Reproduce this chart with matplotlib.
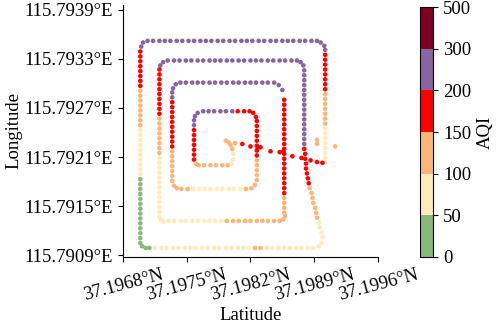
import matplotlib
matplotlib.use('Agg')
import matplotlib.pyplot as plt
from matplotlib.colors import ListedColormap, BoundaryNorm
import numpy as np

plt.rcParams['font.family'] = 'Liberation Serif'
plt.rcParams['font.size'] = 13.5

# track points as offsets from 37.1968N / 115.7909E, in units of 1e-5 degree
lat0 = 37.1968
lon0 = 115.7909

# outer ring, east side going north
r1_lat = [222]*24 + [221, 217]
r1_lon = [113, 119, 125, 131, 137, 143, 149, 155, 161, 167, 173, 179, 185, 191, 197,
          203, 209, 215, 221, 227, 233, 239, 245, 251, 256, 260]
r1_aqi = [80]*8 + [125]*7 + [175]*8 + [250]*3

t1_lat = [213, 207, 200, 194, 187, 181, 175, 168, 162, 155, 149, 142, 136, 130, 123,
          117, 110, 104, 97, 91, 85, 78, 72, 65, 59, 52, 46, 40, 33, 27, 22, 20]
t1_lon = [262]*30 + [260, 255]
t1_aqi = [250]*32

l1_lat = [19]*40 + [21, 25]
l1_lon = [249, 243, 237, 231, 225, 219, 213, 207, 201, 195, 189, 183, 177, 171, 165,
          159, 153, 147, 141, 135, 129, 123, 117, 111, 105, 99, 93, 87, 81, 75, 69,
          63, 57, 51, 45, 39, 33, 27, 21, 15, 11, 9]
l1_aqi = [175]*8 + [125]*8 + [80]*10 + [40]*14 + [40, 40]

b1_lat = [29, 35, 42, 48, 55, 61, 68, 74, 80, 87, 93, 100, 106, 113, 119, 126, 132,
          138, 145, 151, 158, 164, 171, 177, 183, 190, 196, 203, 209, 215, 218]
b1_lon = [9]*29 + [11, 15]
b1_aqi = [40] + [80]*17 + [125]*2 + [80]*9 + [80, 80]

# slanted leg back up to the second ring
s_lat = [219, 218, 216, 215, 213, 212, 211, 209, 208, 207, 205, 204, 203, 202, 201,
         201, 200, 200, 199]
s_lon = [22, 28, 34, 40, 46, 52, 58, 64, 70, 76, 82, 88, 94, 100, 106, 112, 118, 124, 130]
s_aqi = [80]*4 + [125]*7 + [175]*8

r2_lat = [199]*16 + [198, 195]
r2_lon = [136, 142, 148, 154, 160, 166, 172, 178, 184, 190, 196, 202, 208, 214, 220,
          226, 232, 236]
r2_aqi = [250]*18

t2_lat = [191, 185, 178, 172, 165, 159, 152, 146, 140, 133, 127, 120, 114, 107, 101,
          95, 88, 82, 75, 69, 62, 56, 49, 44, 41]
t2_lon = [238]*23 + [236, 232]
t2_aqi = [250]*25

l2_lat = [40]*31 + [42, 45]
l2_lon = [227, 221, 215, 209, 203, 197, 191, 185, 179, 173, 167, 161, 155, 149, 143,
          137, 131, 125, 119, 113, 107, 101, 95, 89, 83, 77, 71, 65, 59, 53, 47, 43, 41]
l2_aqi = [175]*10 + [125]*8 + [80]*13 + [80, 80]

b2_lat = [50, 56, 63, 69, 76, 82, 89, 95, 101, 108, 114, 121, 127, 134, 140, 147,
          153, 159, 166, 172, 176, 178]
b2_lon = [42]*20 + [44, 48]
b2_aqi = [80]*10 + [125]*12

r3_lat = [177]*24 + [175, 171]
r3_lon = [52, 58, 64, 70, 76, 82, 88, 94, 100, 106, 112, 118, 124, 130, 136, 142, 148,
          154, 160, 166, 172, 178, 184, 190, 202, 208]
r3_aqi = [125]*4 + [175]*20 + [250]*2

t3_lat = [166, 159, 153, 146, 140, 134, 127, 121, 114, 108, 101, 95, 88, 82, 76, 69,
          63, 58, 55]
t3_lon = [211]*17 + [209, 204]
t3_aqi = [250]*19

l3_lat = [54]*19 + [56, 59]
l3_lon = [199, 193, 187, 181, 175, 169, 163, 157, 151, 145, 139, 133, 127, 121, 115,
          109, 103, 97, 91, 85, 82]
l3_aqi = [250]*2 + [175]*10 + [125]*9

b3_lat = [64, 71, 77, 84, 90, 96, 103, 109, 116, 122, 129, 135, 141, 145]
b3_lon = [81]*12 + [82, 86]
b3_aqi = [125]*2 + [80]*9 + [125]*3

r4_lat = [147]*13 + [146, 143]
r4_lon = [92, 98, 104, 110, 116, 122, 128, 134, 140, 146, 152, 158, 164, 169, 174]
r4_aqi = [125]*5 + [175]*10

t4_lat = [139, 133, 126, 120, 113, 107, 100, 94, 88, 82, 79]
t4_lon = [176]*9 + [174, 170]
t4_aqi = [175]*3 + [250]*8

l4_lat = [78]*9 + [80, 83]
l4_lon = [165, 159, 153, 147, 141, 135, 129, 123, 117, 112, 110]
l4_aqi = [250]*2 + [175]*7 + [125]*2

# innermost stretch and the hook at the centre
b4_lat = [89, 96, 102, 109, 115, 119, 121, 121, 120, 118, 116, 113]
b4_lon = [110]*5 + [112, 117, 124, 130, 135, 138, 140]
b4_aqi = [125]*5 + [80]*3 + [125]*4

# sparse crossing leg from centre to the east
d_lat = [123, 131, 140, 148, 151, 162, 172, 176, 186, 196, 206, 213, 219]
d_lon = [137, 136, 133, 131, 132, 127, 126, 127, 121, 119, 116, 114, 113]
d_aqi = [125] + [175]*12

x_lat = [213, 213, 233]
x_lon = [141, 136, 133]
x_aqi = [125]*3

legs = [(r1_lat, r1_lon, r1_aqi), (t1_lat, t1_lon, t1_aqi), (l1_lat, l1_lon, l1_aqi),
        (b1_lat, b1_lon, b1_aqi), (s_lat, s_lon, s_aqi), (r2_lat, r2_lon, r2_aqi),
        (t2_lat, t2_lon, t2_aqi), (l2_lat, l2_lon, l2_aqi), (b2_lat, b2_lon, b2_aqi),
        (r3_lat, r3_lon, r3_aqi), (t3_lat, t3_lon, t3_aqi), (l3_lat, l3_lon, l3_aqi),
        (b3_lat, b3_lon, b3_aqi), (r4_lat, r4_lon, r4_aqi), (t4_lat, t4_lon, t4_aqi),
        (l4_lat, l4_lon, l4_aqi), (b4_lat, b4_lon, b4_aqi), (d_lat, d_lon, d_aqi),
        (x_lat, x_lon, x_aqi)]

lat = lat0 + np.concatenate([np.array(l[0], float) for l in legs]) * 1e-5
lon = lon0 + np.concatenate([np.array(l[1], float) for l in legs]) * 1e-5
aqi = np.concatenate([np.array(l[2], float) for l in legs])

aqi_bounds = [0, 50, 100, 150, 200, 300, 500]
aqi_colors = ['#88b87a', '#feeabb', '#fdb577', '#ff0000', '#8864a0', '#7e0023']
x_ticks = [37.1968, 37.1975, 37.1982, 37.1989, 37.1996]
y_ticks = [115.7909, 115.7915, 115.7921, 115.7927, 115.7933, 115.7939]

cmap = ListedColormap(aqi_colors)
norm = BoundaryNorm(aqi_bounds, cmap.N)

fig = plt.figure(figsize=(4.98, 3.24), dpi=100)
ax = fig.add_axes([0.247, 0.207, 0.512, 0.778])
cax = fig.add_axes([0.843, 0.207, 0.027, 0.771])

sc = ax.scatter(lat, lon, c=aqi, cmap=cmap, norm=norm, s=11, linewidths=0)

ax.set_xlim(37.1968, 37.1996)
ax.set_ylim(115.79088, 115.79396)
ax.set_xticks(x_ticks)
ax.set_xticklabels([f'{v:.4f}°N' for v in x_ticks], rotation=15)
ax.set_yticks(y_ticks)
ax.set_yticklabels([f'{v:.4f}°E' for v in y_ticks])
ax.spines['top'].set_visible(False)
ax.spines['right'].set_visible(False)
ax.set_xlabel('Latitude', labelpad=2)
ax.set_ylabel('Longitude', labelpad=2)

cb = fig.colorbar(sc, cax=cax, ticks=aqi_bounds)
cb.set_label('AQI')

fig.savefig('out.png', dpi=100)
